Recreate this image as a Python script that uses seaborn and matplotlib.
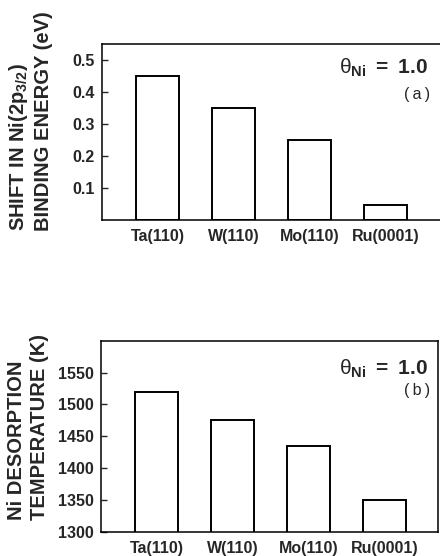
import matplotlib
matplotlib.use("Agg")
import matplotlib.pyplot as plt
import seaborn as sns

# Substrates and measured quantities for a Ni monolayer (theta_Ni = 1.0)
substrates = ["Ta(110)", "W(110)", "Mo(110)", "Ru(0001)"]
be_shift_ev = [0.45, 0.35, 0.25, 0.045]
desorption_temp_k = [1520, 1475, 1435, 1350]

shift_ticks = [0.1, 0.2, 0.3, 0.4, 0.5]
temp_ticks = [1300, 1350, 1400, 1450, 1500, 1550]

sns.set_style("ticks")
plt.rcParams["font.family"] = ["Liberation Sans", "DejaVu Sans"]
plt.rcParams["mathtext.fontset"] = "custom"
plt.rcParams["mathtext.rm"] = "Liberation Sans"
plt.rcParams["mathtext.it"] = "Liberation Sans"
plt.rcParams["mathtext.bf"] = "Liberation Sans:bold"

W, H = 440, 556
fig = plt.figure(figsize=(W / 100, H / 100), dpi=100)


def px_axes(left, top, right, bottom):
    return fig.add_axes([left / W, 1 - bottom / H, (right - left) / W, (bottom - top) / H])


def style_panel(ax, values, ticks, ylim, xlim):
    sns.barplot(x=substrates, y=values, ax=ax, color="white", edgecolor="black",
                linewidth=1.4, width=0.56, saturation=1)
    ax.set_xlim(*xlim)
    ax.set_ylim(*ylim)
    ax.set_yticks(ticks)
    ax.set_ylabel("")
    ax.set_xlabel("")
    for s in ax.spines.values():
        s.set_visible(True)
        s.set_linewidth(1.1)
        s.set_color("black")
    ax.tick_params(axis="y", direction="in", length=4, width=1, pad=5,
                   labelsize=11.5)
    ax.tick_params(axis="x", length=0, pad=7, labelsize=11.5)
    for lab in ax.get_xticklabels() + ax.get_yticklabels():
        lab.set_fontweight("bold")


# (a) binding-energy shift
ax1 = px_axes(102, 44, 442, 219.5)
style_panel(ax1, be_shift_ev, shift_ticks, (0, 0.55), (-0.73, 3.74))
ax1.set_yticklabels([f"{t:.1f}" for t in shift_ticks], fontweight="bold")

# (b) desorption temperature
ax2 = px_axes(101, 340.7, 438, 531.7)
style_panel(ax2, desorption_temp_k, temp_ticks, (1300, 1600), (-0.73, 3.70))

# axis titles, two stacked lines each
fig.text(30 / W, 1 - 121.5 / H,
         "SHIFT IN Ni(2p$_{\\mathbf{3/2}}$)\nBINDING ENERGY (eV)",
         rotation=90, ha="center", va="center", multialignment="left",
         fontsize=14.5, fontweight="bold", linespacing=1.3)
fig.text(28 / W, 1 - 426.5 / H,
         "Ni DESORPTION\nTEMPERATURE (K)",
         rotation=90, ha="center", va="center", multialignment="left",
         fontsize=14.5, fontweight="bold", linespacing=1.3)

# coverage annotations
for ytop, ysub, tag in [(67.5, 94, "(a)"), (368.5, 390, "(b)")]:
    fig.text(428 / W, 1 - ytop / H, "$\\theta_{\\mathbf{Ni}}$ \u2009=\u2009 1.0",
             ha="right", va="center", fontsize=15, fontweight="bold")
    fig.text(430 / W, 1 - ysub / H, tag.replace("(", "(\u2009").replace(")", "\u2009)"),
             ha="right", va="center", fontsize=11.5)

fig.savefig("out.png", dpi=100)
